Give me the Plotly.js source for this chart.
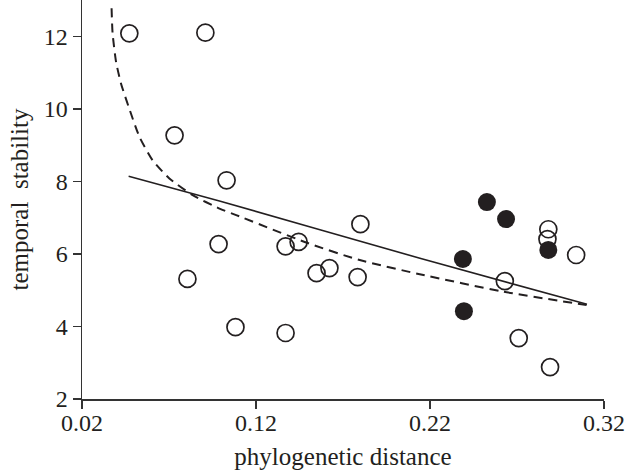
<!DOCTYPE html>
<html>
<head>
<meta charset="utf-8">
<script src="https://cdn.plot.ly/plotly-3.0.1.min.js"></script>
<style>html,body{margin:0;padding:0;background:#fff;}#chart{width:626px;height:471px;}</style>
</head>
<body>
<div id="chart"></div>
<script>
// open circles
const openX = [0.0472, 0.0909, 0.0732, 0.1031, 0.0806, 0.0985, 0.1082, 0.1370, 0.1445, 0.1370, 0.1548, 0.1622, 0.1784, 0.1800, 0.2630, 0.2710, 0.2880, 0.2875, 0.2890, 0.3040];
const openY = [12.08, 12.10, 9.27, 8.03, 5.31, 6.27, 3.98, 6.21, 6.33, 3.82, 5.47, 5.61, 5.36, 6.82, 5.25, 3.68, 6.68, 6.41, 2.88, 5.97];
// filled circles
const fillX = [0.2527, 0.2637, 0.2389, 0.2395, 0.2880];
const fillY = [7.43, 6.96, 5.86, 4.42, 6.11];
// solid fit line
const solidX = [0.0468, 0.0990, 0.2142, 0.3102];
const solidY = [8.14, 7.46, 5.88, 4.61];
// dashed fit curve
const dashX = [0.0370, 0.0376, 0.0396, 0.0424, 0.0472, 0.0530, 0.0606, 0.0702, 0.0836, 0.0990, 0.1086, 0.1497, 0.1796, 0.2141, 0.2620, 0.3100];
const dashY = [12.77, 12.07, 11.29, 10.70, 10.00, 9.23, 8.58, 8.08, 7.62, 7.25, 7.07, 6.30, 5.83, 5.44, 4.96, 4.59];
const xTicks = [0.02, 0.12, 0.22, 0.32];
const xTickText = ['0.02', '0.12', '0.22', '0.32'];
const yTicks = [2, 4, 6, 8, 10, 12];

const ink = '#231f20';
const traces = [
  {x: dashX, y: dashY, mode: 'lines', line: {color: ink, width: 2, dash: '9px,6px', shape: 'spline', smoothing: 0.6}, hoverinfo: 'skip', cliponaxis: false},
  {x: solidX, y: solidY, mode: 'lines', line: {color: ink, width: 1.6, shape: 'spline', smoothing: 0.3}, hoverinfo: 'skip'},
  {x: openX, y: openY, mode: 'markers', marker: {symbol: 'circle-open', size: 17, color: ink, line: {width: 1.7, color: ink}}, cliponaxis: false},
  {x: fillX, y: fillY, mode: 'markers', marker: {symbol: 'circle', size: 18, color: ink, line: {width: 0}}, cliponaxis: false}
];
const fam = '"Liberation Serif", "Times New Roman", serif';
const layout = {
  width: 626, height: 471,
  margin: {l: 82, r: 22, t: 0, b: 72},
  paper_bgcolor: '#fff', plot_bgcolor: '#fff',
  showlegend: false,
  font: {family: fam, color: ink},
  xaxis: {
    range: [0.02, 0.32], tickvals: xTicks, ticktext: xTickText,
    showgrid: false, zeroline: false, showline: true, linecolor: '#333', linewidth: 1.5,
    ticks: 'outside', ticklen: 8, tickwidth: 1.5, tickcolor: '#333',
    ticklabelstandoff: -6,
    tickfont: {size: 24, family: fam, color: ink},
    title: {text: 'phylogenetic distance', font: {size: 25, family: fam, color: ink}, standoff: 12}
  },
  yaxis: {
    range: [2, 13], tickvals: yTicks,
    showgrid: false, zeroline: false, showline: true, linecolor: '#333', linewidth: 1.5,
    ticks: 'outside', ticklen: 8, tickwidth: 1.5, tickcolor: '#333',
    tickfont: {size: 24, family: fam, color: ink},
    title: {text: 'temporal  stability', font: {size: 25, family: fam, color: ink}, standoff: 8}
  }
};
Plotly.newPlot('chart', traces, layout, {displayModeBar: false, staticPlot: true});
</script>
</body>
</html>
